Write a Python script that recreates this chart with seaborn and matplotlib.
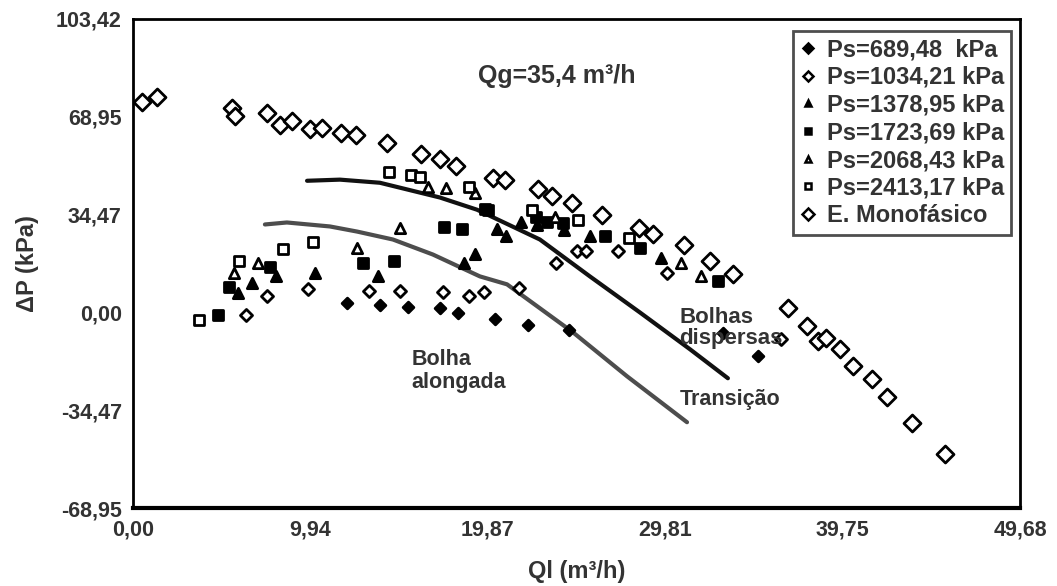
import matplotlib
matplotlib.use("Agg")
import matplotlib.pyplot as plt
import seaborn as sns
import numpy as np

# ---------------- data ----------------
ps689_x = [11.99, 13.83, 15.40, 17.19, 18.20, 20.27, 22.12, 24.42, 33.04, 35.00]
ps689_y = [3.17, 2.46, 1.76, 1.41, -0.35, -2.46, -4.57, -6.33, -7.39, -15.48]

ps1034_x = [6.33, 7.50, 9.80, 13.22, 14.95, 17.36, 18.82, 19.66, 21.62, 23.69, 24.87, 25.37, 27.16, 29.91, 36.29]
ps1034_y = [-1.06, 5.63, 8.09, 7.39, 7.39, 7.03, 5.63, 7.03, 8.44, 17.59, 21.81, 21.81, 21.81, 14.07, -9.50]

ps1378_x = [5.88, 6.66, 8.01, 10.19, 13.72, 18.54, 19.15, 20.39, 20.89, 21.73, 22.63, 24.14, 25.60, 29.57]
ps1378_y = [6.68, 10.20, 13.01, 14.07, 13.01, 17.59, 20.75, 29.55, 27.08, 32.01, 30.95, 29.19, 27.08, 19.35]

ps1723_x = [4.76, 5.38, 7.67, 12.88, 14.62, 17.42, 18.43, 19.71, 19.90, 22.57, 23.19, 24.08, 26.44, 28.39, 32.76]
ps1723_y = [-1.06, 8.79, 16.18, 17.59, 18.29, 30.25, 29.55, 36.58, 36.20, 33.77, 32.01, 31.66, 27.08, 22.86, 10.90]

ps2068_x = [5.66, 7.00, 12.55, 14.95, 16.52, 17.53, 19.15, 23.63, 30.69, 31.81]
ps2068_y = [14.07, 17.59, 22.86, 29.90, 44.32, 43.97, 42.21, 33.77, 17.59, 13.01]

ps2413_x = [3.70, 5.94, 8.40, 10.08, 14.34, 15.57, 16.07, 18.82, 22.35, 24.92, 27.78]
ps2413_y = [-2.81, 18.29, 22.51, 24.97, 49.59, 48.54, 47.83, 44.32, 36.23, 32.71, 26.38]

mono_x = [0.50, 1.34, 5.54, 5.71, 7.50, 8.23, 8.91, 9.91, 10.59, 11.65, 12.49, 14.23, 16.13,
          17.19, 18.09, 20.16, 20.83, 22.68, 23.47, 24.59, 26.27, 28.35, 29.13, 30.86, 32.32,
          33.60, 36.68, 37.75, 38.36, 38.81, 39.60, 40.32, 41.39, 42.23, 43.63, 45.48]
mono_y = [74.2, 76.0, 72.1, 69.3, 70.3, 66.1, 67.5, 64.7, 65.1, 63.3, 62.6, 59.8, 55.9,
          54.2, 51.7, 47.5, 46.8, 43.6, 41.2, 38.7, 34.5, 29.6, 27.8, 23.9, 18.3,
          13.7, 1.4, -4.9, -9.9, -9.1, -13.0, -19.0, -23.6, -29.9, -39.0, -50.0]

# transition curves
upper_x = [9.75, 11.59, 13.83, 17.19, 19.27, 22.79, 25.59, 28.39, 31.20, 33.32]
upper_y = [46.4, 46.8, 45.7, 40.5, 36.2, 25.7, 12.7, 0.0, -13.0, -23.2]
lower_x = [7.39, 8.62, 11.03, 12.55, 14.56, 16.80, 19.43, 20.95, 24.64, 27.67, 31.03]
lower_y = [31.0, 31.7, 30.3, 28.5, 25.7, 20.4, 12.7, 9.9, -7.0, -22.5, -38.7]

xticks = [0.00, 9.94, 19.87, 29.81, 39.75, 49.68]
yticks = [-68.95, -34.47, 0.00, 34.47, 68.95, 103.42]
xtick_labels = ["0,00", "9,94", "19,87", "29,81", "39,75", "49,68"]
ytick_labels = ["-68,95", "-34,47", "0,00", "34,47", "68,95", "103,42"]

labels = ["Ps=689,48  kPa", "Ps=1034,21 kPa", "Ps=1378,95 kPa", "Ps=1723,69 kPa",
          "Ps=2068,43 kPa", "Ps=2413,17 kPa", "E. Monofásico"]

# ---------------- plot ----------------
sns.set_style("white")
plt.rcParams['font.family'] = ['Liberation Sans', 'DejaVu Sans']

fig = plt.figure(figsize=(10.57, 5.86), dpi=100)
ax = fig.add_axes([0.1258, 0.133, 0.8392, 0.8346])

txtc = "#333333"

sns.lineplot(x=upper_x, y=upper_y, ax=ax, color="#111111", lw=3, legend=False, sort=False)
sns.lineplot(x=lower_x, y=lower_y, ax=ax, color="#4d4d4d", lw=3, legend=False, sort=False)

series = [
    (ps689_x, ps689_y, 'D', 30, 'black', 'black'),
    (ps1034_x, ps1034_y, 'D', 38, 'white', 'black'),
    (ps1378_x, ps1378_y, '^', 55, 'black', 'black'),
    (ps1723_x, ps1723_y, 's', 55, 'black', 'black'),
    (ps2068_x, ps2068_y, '^', 55, 'white', 'black'),
    (ps2413_x, ps2413_y, 's', 42, 'white', 'black'),
    (mono_x, mono_y, 'D', 75, 'white', 'black'),
]
handles = []
for (xs, ys, m, s, fc, ec), lab in zip(series, labels):
    sns.scatterplot(x=xs, y=ys, marker=m, s=s, color=fc, edgecolor=ec,
                    linewidth=2.0, ax=ax, legend=False, zorder=3)
    h = plt.Line2D([], [], marker=m, linestyle='none', markerfacecolor=fc,
                   markeredgecolor=ec, markeredgewidth=1.8,
                   markersize=5 if lab.startswith("Ps") else 6)
    handles.append(h)

ax.set_xlim(0, 49.68)
ax.set_ylim(-68.95, 103.42)
ax.set_xticks(xticks)
ax.set_xticklabels(xtick_labels)
ax.set_yticks(yticks)
ax.set_yticklabels(ytick_labels)
ax.tick_params(axis='both', direction='out', length=5, width=1.5, colors='black',
               labelsize=15.5, labelcolor=txtc, pad=3)
for lab in ax.get_xticklabels() + ax.get_yticklabels():
    lab.set_fontweight('bold')
for sp in ax.spines.values():
    sp.set_visible(True)
    sp.set_color('black')
    sp.set_linewidth(2)
ax.spines['bottom'].set_linewidth(3)

ax.set_xlabel("Ql (m³/h)", fontsize=17, fontweight='bold', color=txtc, labelpad=14)
ax.set_ylabel("ΔP (kPa)", fontsize=17, fontweight='bold', color=txtc, labelpad=12)

ax.text(19.3, 83.5, "Qg=35,4 m³/h", fontsize=18, fontweight='bold', color=txtc,
        ha='left', va='center')
ax.text(15.6, -20.7, "Bolha\nalongada", fontsize=15.5, fontweight='bold', color=txtc,
        ha='left', va='center', linespacing=1.1)
ax.text(30.6, -30.6, "Transição", fontsize=15.5, fontweight='bold', color=txtc,
        ha='left', va='center')
ax.text(30.6, -5.6, "Bolhas\ndispersas", fontsize=16, fontweight='bold', color=txtc,
        ha='left', va='center', linespacing=1.0)

leg = ax.legend(handles, labels, loc='upper right', bbox_to_anchor=(0.995, 0.985),
                frameon=True, fancybox=False, fontsize=17, handlelength=0.6,
                handletextpad=0.5, borderpad=0.3, labelspacing=0.2,
                borderaxespad=0.2)
leg.get_frame().set_edgecolor('#222222')
leg.get_frame().set_linewidth(2)
for t in leg.get_texts():
    t.set_fontweight('bold')
    t.set_color(txtc)

fig.savefig("out.png", dpi=100)
